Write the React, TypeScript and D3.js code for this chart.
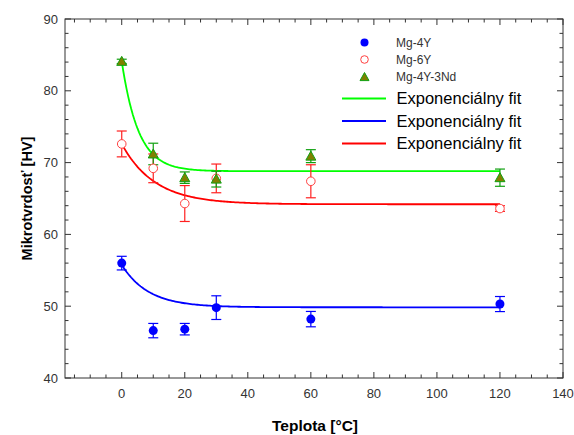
import React from "react";
import * as d3 from "d3";

const W = 574, H = 435;
const M = { left: 65, top: 19, right: 563, bottom: 378 };

const temps = [0, 10, 20, 30, 60, 120];
const mg4Y = [56.0, 46.6, 46.8, 49.8, 48.2, 50.3];
const mg4YErr = [0.95, 1.0, 0.8, 1.65, 1.07, 1.05];
const mg6Y = [72.6, 69.2, 64.3, 67.8, 67.4, 63.6];
const mg6YErr = [1.8, 2.0, 2.5, 2.0, 2.3, 0.4];
const mg4Y3Nd = [84.1, 71.2, 67.9, 67.7, 70.9, 67.9];
const mg4Y3NdErr = [0.3, 1.5, 0.8, 1.1, 0.9, 1.2];

// exponential fit parameters: y0, A, tau  (y = y0 + A*exp(-x/tau))
const fitGreen = [68.8, 15.3, 5.3];
const fitBlue = [49.85, 5.9, 8.5];
const fitRed = [64.2, 8.4, 10.5];
const fitX = d3.range(0, 120.5, 0.5);

const xTicks = [0, 20, 40, 60, 80, 100, 120, 140];
const yTicks = [40, 50, 60, 70, 80, 90];
const legendSeries = ["Mg-4Y", "Mg-6Y", "Mg-4Y-3Nd"];
const legendFit = "Exponenciálny fit";

const x = d3.scaleLinear().domain([-18, 140]).range([M.left, M.right]);
const y = d3.scaleLinear().domain([40, 90]).range([M.bottom, M.top]);

const FONT = "'Liberation Sans', Arial, sans-serif";
const AX = "#333";

function fitPath(p: number[]) {
  const line = d3.line<number>().x(d => x(d)).y(d => y(p[0] + p[1] * Math.exp(-d / p[2])));
  return line(fitX) || "";
}

function ErrBars({ vals, errs, color }: { vals: number[]; errs: number[]; color: string }) {
  return (
    <g stroke={color} strokeWidth={1.2}>
      {temps.map((t, i) => {
        const cx = x(t);
        const y1 = y(vals[i] + errs[i]);
        const y2 = y(vals[i] - errs[i]);
        return (
          <g key={i}>
            <line x1={cx} x2={cx} y1={y1} y2={y2} />
            <line x1={cx - 5} x2={cx + 5} y1={y1} y2={y1} />
            <line x1={cx - 5} x2={cx + 5} y1={y2} y2={y2} />
          </g>
        );
      })}
    </g>
  );
}

function tri(cx: number, cy: number, s: number) {
  return `M${cx},${cy - s}L${cx + s},${cy + s * 0.8}L${cx - s},${cy + s * 0.8}Z`;
}

export default function App() {
  const xMinor = d3.range(-15, 141, 5);
  const yMinor = d3.range(40, 91, 2);
  return (
    <svg width={W} height={H} style={{ position: "absolute", left: 0, top: 0, background: "#fff" }} fontFamily={FONT}>
      {/* frame */}
      <rect x={M.left} y={M.top} width={M.right - M.left} height={M.bottom - M.top} fill="none" stroke={AX} strokeWidth={1} />
      {/* ticks */}
      <g stroke={AX} strokeWidth={1}>
        {xMinor.map(v => {
          const major = v % 20 === 0;
          const l = major ? 6 : 3.5;
          return (
            <g key={v}>
              <line x1={x(v)} x2={x(v)} y1={M.bottom} y2={M.bottom - l} />
              <line x1={x(v)} x2={x(v)} y1={M.top} y2={M.top + l} />
            </g>
          );
        })}
        {yMinor.map(v => {
          const major = v % 10 === 0;
          const l = major ? 6 : 3.5;
          return (
            <g key={v}>
              <line x1={M.left} x2={M.left + l} y1={y(v)} y2={y(v)} />
              <line x1={M.right} x2={M.right - l} y1={y(v)} y2={y(v)} />
            </g>
          );
        })}
      </g>
      <g fontSize={13} fill={AX}>
        {xTicks.map(v => (
          <text key={v} x={x(v)} y={398} textAnchor="middle">{v}</text>
        ))}
        {yTicks.map(v => (
          <text key={v} x={58} y={y(v) + 4.5} textAnchor="end">{v}</text>
        ))}
      </g>
      <text x={315} y={431} textAnchor="middle" fontSize={15.5} fontWeight="bold" fill="#000">Teplota [°C]</text>
      <text transform={`translate(32,${(M.top + M.bottom) / 2}) rotate(-90)`} textAnchor="middle" fontSize={14.5} fontWeight="bold" fill="#000">Mikrotvrdosť [HV]</text>

      {/* fits */}
      <path d={fitPath(fitGreen)} fill="none" stroke="#00ff00" strokeWidth={1.8} />
      <path d={fitPath(fitRed)} fill="none" stroke="#ff0000" strokeWidth={1.8} />
      <path d={fitPath(fitBlue)} fill="none" stroke="#0000ff" strokeWidth={1.8} />

      {/* error bars */}
      <ErrBars vals={mg6Y} errs={mg6YErr} color="#ff2020" />
      <ErrBars vals={mg4Y3Nd} errs={mg4Y3NdErr} color="#10a010" />
      <ErrBars vals={mg4Y} errs={mg4YErr} color="#0000ff" />

      {/* points */}
      {temps.map((t, i) => (
        <circle key={"r" + i} cx={x(t)} cy={y(mg6Y[i])} r={4.3} fill="#fff" stroke="#ff4040" strokeWidth={1} />
      ))}
      {temps.map((t, i) => (
        <path key={"g" + i} d={tri(x(t), y(mg4Y3Nd[i]), 5)} fill="#808000" stroke="#10a010" strokeWidth={1} />
      ))}
      {temps.map((t, i) => (
        <circle key={"b" + i} cx={x(t)} cy={y(mg4Y[i])} r={4.5} fill="#0000ff" />
      ))}

      {/* legend */}
      <g fontSize={12} fill={AX}>
        <circle cx={364.5} cy={42.5} r={4} fill="#0000ff" />
        <circle cx={364.5} cy={59.5} r={3.8} fill="#fff" stroke="#ff4040" strokeWidth={1} />
        <path d={tri(364.5, 77, 4.5)} fill="#808000" stroke="#10a010" strokeWidth={1} />
        {legendSeries.map((s, i) => (
          <text key={s} x={396} y={47 + i * 17}>{s}</text>
        ))}
      </g>
      <g fontSize={16.5} fill="#000">
        {["#00ff00", "#0000ff", "#ff0000"].map((c, i) => (
          <g key={c}>
            <line x1={342} x2={386} y1={98.5 + i * 22.5} y2={98.5 + i * 22.5} stroke={c} strokeWidth={1.8} />
            <text x={396.5} y={104 + i * 22.5}>{legendFit}</text>
          </g>
        ))}
      </g>
    </svg>
  );
}
